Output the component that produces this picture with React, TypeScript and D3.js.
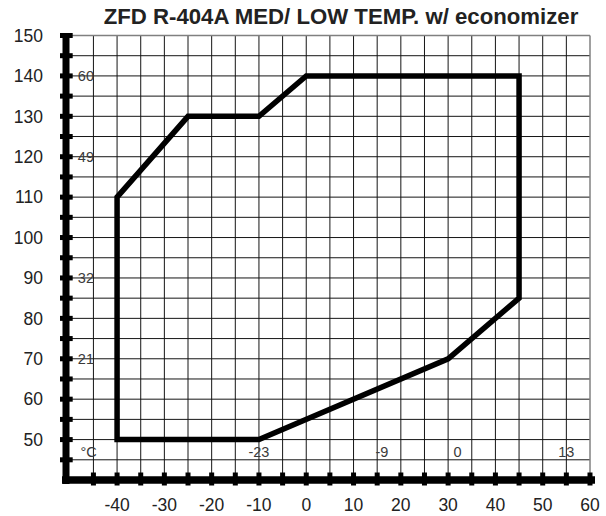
import * as d3 from "d3";

// operating envelope (evaporating °F, condensing °F)
const envX = [-40, -25, -10, 0, 45, 45, 30, -10, -40];
const envY = [110, 130, 130, 140, 140, 85, 70, 50, 50];

const xTickVals = [-40, -30, -20, -10, 0, 10, 20, 30, 40, 50, 60];
const yTickVals = [50, 60, 70, 80, 90, 100, 110, 120, 130, 140, 150];

// celsius annotations
const leftCText = ["60", "49", "32", "21"];
const leftCAt = [140, 120, 90, 70];
const bottomCText = ["°C", "-23", "-9", "0", "13"];
const bottomCAt = [-46, -10, 16, 32, 55];

const W = 606;
const H = 516;
const FONT = "'Liberation Sans', Arial, Helvetica, sans-serif";

export default function App() {
  const x = d3.scaleLinear().domain([-50.8, 60]).range([66, 590]);
  const y = d3.scaleLinear().domain([40, 150]).range([480, 35.5]);

  const gridX = d3.range(-45, 60, 5);
  const gridY = d3.range(45, 150, 5);
  const minorX = d3.range(-45, 61, 5);
  const minorY = d3.range(45, 151, 5);

  const pts: [number, number][] = envX.map((v, i) => [v, envY[i]]);
  const line = d3
    .line<[number, number]>()
    .x((d) => x(d[0]))
    .y((d) => y(d[1]))
    .curve(d3.curveLinearClosed);

  const x0 = x(-50.8);
  const x1 = x(60);
  const yTop = y(150);
  const yBot = y(40);

  return (
    <svg
      width={W}
      height={H}
      style={{ position: "absolute", left: 0, top: 0, background: "#fff" }}
      fontFamily={FONT}
    >
      <rect width={W} height={H} fill="#fff" />
      <text x={341} y={24} textAnchor="middle" fontSize={22.2} fontWeight="bold" fill="#222">
        ZFD R-404A MED/ LOW TEMP. w/ economizer
      </text>

      {/* grid */}
      <g stroke="#151515" strokeWidth={1}>
        {gridX.map((v) => (
          <line key={"gx" + v} x1={x(v)} x2={x(v)} y1={yTop} y2={yBot} />
        ))}
        {gridY.map((v) => (
          <line key={"gy" + v} x1={x0} x2={x1} y1={y(v)} y2={y(v)} />
        ))}
      </g>
      <g stroke="#808080" strokeWidth={1.5} fill="none">
        <line x1={x0} x2={x1} y1={yTop} y2={yTop} />
        <line x1={x1} x2={x1} y1={yTop} y2={yBot} />
      </g>

      {/* celsius labels */}
      <g fontSize={14.5} fill="#3a3a3a">
        {leftCText.map((t, i) => (
          <text key={"lc" + i} x={x(-48.3)} y={y(leftCAt[i])} dy="0.36em">
            {t}
          </text>
        ))}
        {bottomCText.map((t, i) => (
          <text key={"bc" + i} x={x(bottomCAt[i])} y={y(47)} dy="0.36em" textAnchor="middle">
            {t}
          </text>
        ))}
      </g>

      {/* envelope */}
      <path d={line(pts) ?? ""} fill="none" stroke="#000" strokeWidth={5.5} strokeLinejoin="miter" />

      {/* axes */}
      <line x1={x0} x2={x0} y1={yTop - 2} y2={yBot + 4} stroke="#000" strokeWidth={7} />
      <line x1={x0 - 4} x2={x1 + 5} y1={yBot} y2={yBot} stroke="#000" strokeWidth={7.5} />
      <g fill="#000">
        {minorY.map((v) => (
          <rect key={"ty" + v} x={60} y={y(v) - 2.5} width={12.7} height={5} />
        ))}
        {minorX.map((v) => (
          <rect key={"tx" + v} x={x(v) - 2.5} y={472.5} width={5} height={13} />
        ))}
      </g>

      {/* tick labels */}
      <g fontSize={17.5} fill="#222">
        {yTickVals.map((v) => (
          <text key={"yl" + v} x={43} y={y(v)} dy="0.36em" textAnchor="end">
            {v}
          </text>
        ))}
        {xTickVals.map((v) => (
          <text key={"xl" + v} x={x(v)} y={511} textAnchor="middle">
            {v}
          </text>
        ))}
      </g>
    </svg>
  );
}
